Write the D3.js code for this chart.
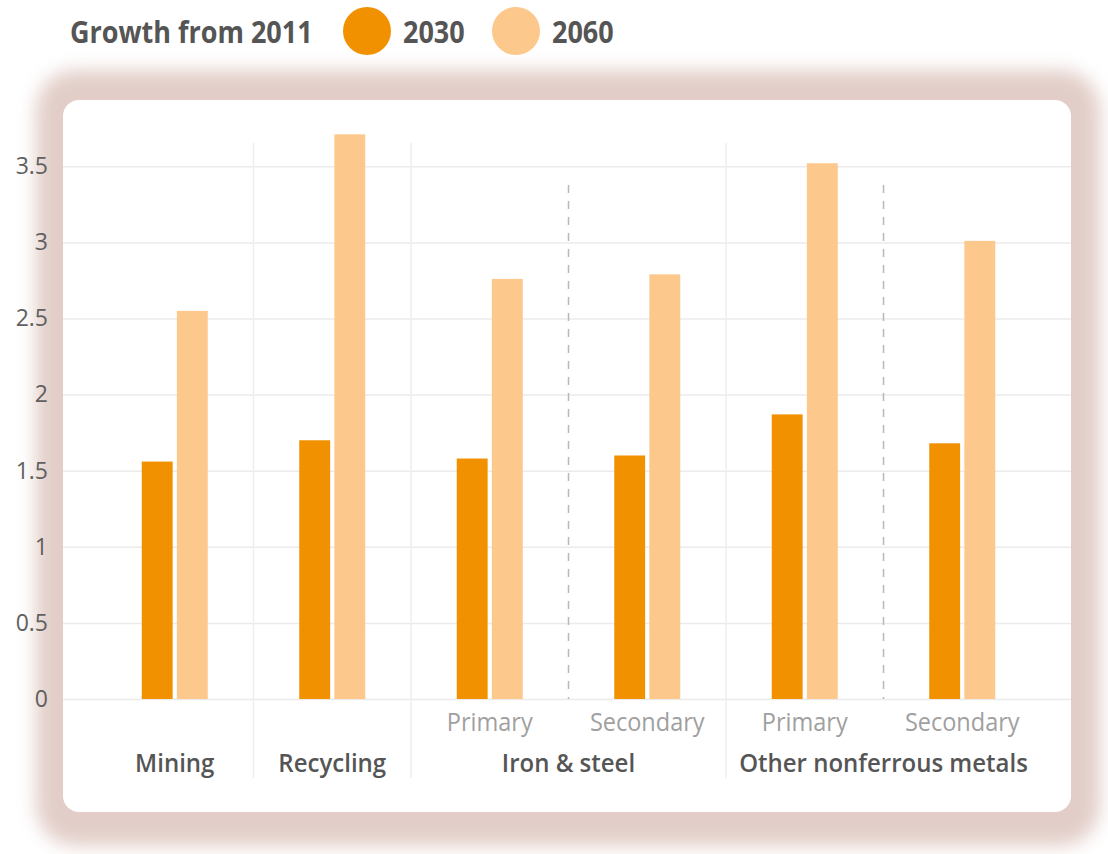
<!DOCTYPE html>
<html>
<head>
<meta charset="utf-8">
<script src="https://cdn.jsdelivr.net/npm/d3@7"></script>
<style>
  html, body { margin: 0; padding: 0; background: #ffffff; }
  svg { display: block; }
  text { font-family: "Open Sans", "Noto Sans", sans-serif; }
</style>
</head>
<body>
<svg id="chart" width="1108" height="854"></svg>
<script>
// Growth in metal production relative to 2011
const groups = ["Mining", "Recycling", "Iron & steel", "Iron & steel", "Other nonferrous metals", "Other nonferrous metals"];
const subgroups = ["", "", "Primary", "Secondary", "Primary", "Secondary"];
const seriesNames = ["2030", "2060"];
const values2030 = [1.56, 1.70, 1.58, 1.60, 1.87, 1.68];
const values2060 = [2.55, 3.71, 2.76, 2.79, 3.52, 3.01];
const yTicks = [0, 0.5, 1, 1.5, 2, 2.5, 3, 3.5];
const yTickLabels = ["0", "0.5", "1", "1.5", "2", "2.5", "3", "3.5"];
const legendTitle = "Growth from 2011";

const colors = { "2030": "#f29100", "2060": "#fcc88b" };

const svg = d3.select("#chart");

// Card with soft reddish-brown halo
const defs = svg.append("defs");
const blur = defs.append("filter").attr("id", "halo")
  .attr("x", "-10%").attr("y", "-10%").attr("width", "120%").attr("height", "120%");
blur.append("feGaussianBlur").attr("stdDeviation", 9);

svg.append("rect")
  .attr("x", 36).attr("y", 70).attr("width", 1064).attr("height", 776)
  .attr("rx", 40)
  .attr("fill", "#d6b9b1")
  .attr("opacity", 0.7)
  .attr("filter", "url(#halo)");

svg.append("rect")
  .attr("x", 63).attr("y", 100).attr("width", 1008).attr("height", 712)
  .attr("rx", 16)
  .attr("fill", "#ffffff");

// Scales
const idx = d3.range(groups.length);
const x0 = d3.scaleBand().domain(idx).range([96, 1041]).paddingInner(0);
const bw = x0.bandwidth();
const x1 = d3.scaleBand().domain(seriesNames)
  .range([bw / 2 - 33, bw / 2 + 33]).paddingInner(0.12);
const y = d3.scaleLinear().domain([0, 3.5]).range([699, 166.3]);

// Horizontal gridlines
const yAxis = d3.axisLeft(y).tickValues(yTicks)
  .tickFormat((d, i) => yTickLabels[i])
  .tickSize(-1008).tickPadding(15);

const gY = svg.append("g").attr("transform", "translate(63,0)").call(yAxis);
gY.select(".domain").remove();
gY.selectAll(".tick line").attr("stroke", "#ebebeb").attr("stroke-width", 1.5);
gY.selectAll(".tick text")
  .attr("fill", "#606060")
  .attr("font-size", 23)
  .attr("font-family", "\"Open Sans\", sans-serif");

// Vertical separators: solid between groups, dashed between sub-groups
idx.slice(1).forEach(i => {
  const xs = x0(i);
  if (groups[i] !== groups[i - 1]) {
    svg.append("line")
      .attr("x1", xs).attr("x2", xs).attr("y1", 143).attr("y2", 778)
      .attr("stroke", "#eeeeee").attr("stroke-width", 1.5);
  } else {
    svg.append("line")
      .attr("x1", xs).attr("x2", xs).attr("y1", 185).attr("y2", 699)
      .attr("stroke", "#b8b8b8").attr("stroke-width", 1.5)
      .attr("stroke-dasharray", "8,8");
  }
});

// Bars
const rows = idx.map(i => ({ i, vals: [
  { key: "2030", value: values2030[i] },
  { key: "2060", value: values2060[i] }
] }));

svg.append("g").selectAll("g").data(rows).join("g")
  .attr("transform", d => `translate(${x0(d.i)},0)`)
  .selectAll("rect").data(d => d.vals).join("rect")
  .attr("x", d => x1(d.key))
  .attr("width", x1.bandwidth())
  .attr("y", d => y(d.value))
  .attr("height", d => y(0) - y(d.value))
  .attr("fill", d => colors[d.key]);

// Helper for condensed-looking text
function condense(factor) {
  return sel => sel.each(function () {
    const w = this.getComputedTextLength();
    d3.select(this).attr("textLength", w * factor).attr("lengthAdjust", "spacingAndGlyphs");
  });
}

// Sub-group labels
svg.append("g").selectAll("text")
  .data(idx.filter(i => subgroups[i]))
  .join("text")
  .attr("x", i => x0(i) + bw / 2)
  .attr("y", 731)
  .attr("text-anchor", "middle")
  .attr("font-size", 25)
  .attr("fill", "#a0a0a0")
  .text(i => subgroups[i])
  .call(condense(0.94));

// Group labels centred on their span
const groupSpans = [];
idx.forEach(i => {
  const last = groupSpans[groupSpans.length - 1];
  if (last && last.name === groups[i]) last.end = i;
  else groupSpans.push({ name: groups[i], start: i, end: i });
});

svg.append("g").selectAll("text")
  .data(groupSpans)
  .join("text")
  .attr("x", d => (x0(d.start) + x0(d.end) + bw) / 2)
  .attr("y", 772)
  .attr("text-anchor", "middle")
  .attr("font-size", 25)
  .attr("font-weight", 600)
  .attr("fill", "#555555")
  .text(d => d.name)
  .call(condense(0.96));

// Legend
const legend = svg.append("g");
legend.append("text")
  .attr("x", 70).attr("y", 43)
  .attr("font-size", 31).attr("font-weight", 700)
  .attr("fill", "#555555")
  .text(legendTitle)
  .call(condense(0.87));

const legendX = { "2030": 367, "2060": 516 };
seriesNames.forEach(s => {
  legend.append("circle")
    .attr("cx", legendX[s]).attr("cy", 31).attr("r", 24)
    .attr("fill", colors[s]);
  legend.append("text")
    .attr("x", legendX[s] + 36).attr("y", 43)
    .attr("font-size", 31).attr("font-weight", 700)
    .attr("fill", "#555555")
    .text(s)
    .call(condense(0.87));
});
</script>
</body>
</html>
